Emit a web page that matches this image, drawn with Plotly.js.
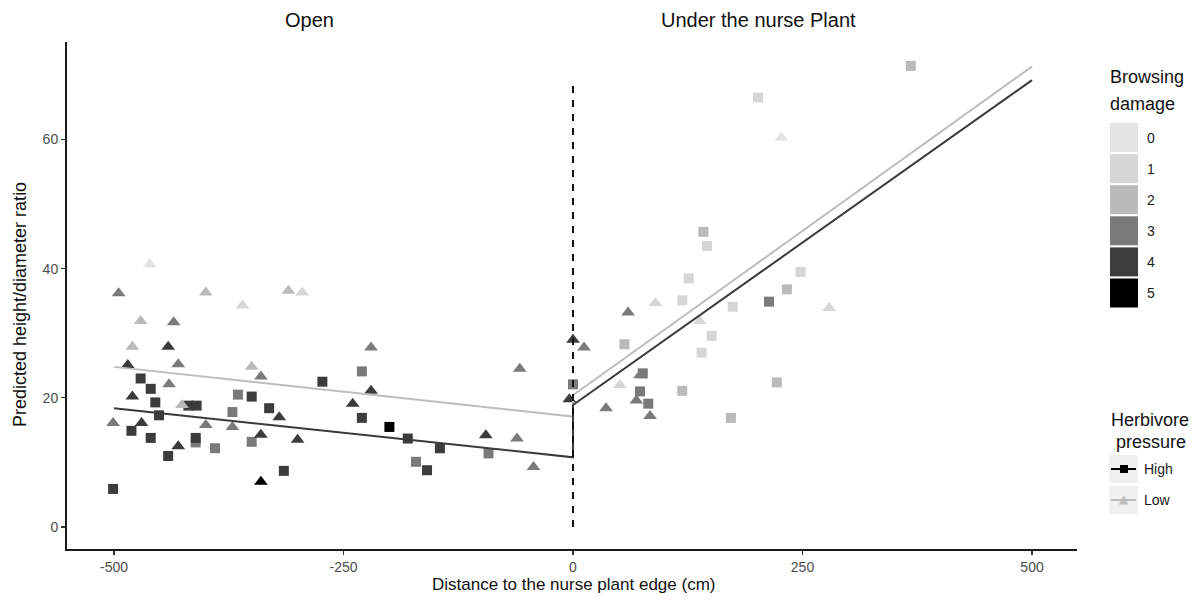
<!DOCTYPE html>
<html>
<head>
<meta charset="utf-8">
<script src="https://cdn.plot.ly/plotly-3.0.1.min.js"></script>
<style>html,body{margin:0;padding:0;background:#fff}#chart{width:1200px;height:601px}</style>
</head>
<body>
<div id="chart"></div>
<script>
// Browsing damage colour scale (0..5)
const damageLevels = [0, 1, 2, 3, 4, 5];
const damageColors = ['#e4e4e4', '#d6d6d6', '#bababa', '#7a7a7a', '#3c3c3c', '#000000'];

// High herbivore pressure (squares)
const highX = [-471, -460, -455, -419, -410, -365, -350, -331, -371, -451, -481, -411, -460, -411, -390, -350, -441, -315, -501,
  -273, -230, -230, -200, -180, -145, -171, -159, -92, 0,
  126, 119, 248, 233, 213.5, 174, 151, 140, 56, 76, 119, 73, 82, 222, 172, 201.5, 142, 146, 368];
const highY = [23.0, 21.4, 19.3, 18.8, 18.8, 20.5, 20.2, 18.4, 17.8, 17.3, 14.9, 13.1, 13.8, 13.8, 12.2, 13.2, 11.0, 8.7, 5.9,
  22.5, 24.1, 16.9, 15.5, 13.7, 12.2, 10.1, 8.8, 11.4, 22.1,
  38.5, 35.1, 39.5, 36.8, 34.9, 34.1, 29.6, 27.0, 28.3, 23.8, 21.1, 21.0, 19.1, 22.4, 16.9, 66.5, 45.7, 43.5, 71.4];
const highDamage = [4, 4, 4, 4, 4, 3, 4, 4, 3, 4, 4, 3, 4, 4, 3, 3, 4, 4, 4,
  4, 3, 4, 5, 4, 4, 3, 4, 3, 3,
  1, 1, 1, 2, 3, 1, 1, 1, 2, 3, 2, 3, 3, 2, 2, 1, 2, 1, 2];

// Low herbivore pressure (triangles)
const lowX = [-461, -495, -400, -360, -310, -295, -471, -435, -480, -441, -485, -430, -350, -340, -440, -480, -426, -320, -501,
  -470, -400, -371, -340, -300, -430, -340, -220, -220, -240, -95, -58, -61, -43, 0, 12, -4,
  60, 90, 279, 138, 51, 73, 69, 36, 84, 227];
const lowY = [40.7, 36.2, 36.3, 34.3, 36.6, 36.3, 31.9, 31.7, 27.9, 27.9, 25.1, 25.2, 24.8, 23.3, 22.1, 20.2, 18.9, 17.0, 16.1,
  16.1, 15.8, 15.5, 14.3, 13.5, 12.5, 7.0, 27.8, 21.1, 19.1, 14.2, 24.5, 13.7, 9.3, 29.0, 27.8, 19.8,
  33.2, 34.7, 33.9, 31.9, 22.0, 23.5, 19.6, 18.4, 17.2, 60.3];
const lowDamage = [0, 3, 2, 1, 2, 1, 2, 3, 2, 4, 4, 3, 2, 3, 3, 4, 2, 4, 3,
  4, 3, 3, 4, 4, 4, 5, 3, 4, 4, 4, 3, 3, 3, 4, 3, 4,
  3, 1, 1, 1, 1, 3, 3, 3, 3, 0];

// Fitted lines (Open side, then jump at edge, then Under nurse plant side)
const fitX = [-500, 0, 0, 500];
const fitHighY = [18.4, 10.8, 18.9, 69.2];
const fitLowY = [24.8, 17.1, 20.4, 71.3];

// Dashed nurse-plant edge
const edgeX = [0, 0];
const edgeY = [0, 69.2];

const xTicks = [-500, -250, 0, 250, 500];
const yTicks = [0, 20, 40, 60];

const colorOf = d => damageColors[d];

const traces = [
  {type: 'scatter', mode: 'markers', x: highX, y: highY, hoverinfo: 'skip',
   marker: {symbol: 'square', size: 10, color: highDamage.map(colorOf), line: {width: 0}}},
  {type: 'scatter', mode: 'markers', x: lowX, y: lowY, hoverinfo: 'skip',
   marker: {symbol: 'triangle-up', size: 12, color: lowDamage.map(colorOf), line: {width: 0}}},
  {type: 'scatter', mode: 'lines', x: fitX, y: fitLowY, line: {color: '#bdbdbd', width: 2}},
  {type: 'scatter', mode: 'lines', x: fitX, y: fitHighY, line: {color: '#3a3a3a', width: 2}},
  {type: 'scatter', mode: 'lines', x: edgeX, y: edgeY, line: {color: '#111', width: 2, dash: '7px,7px'}}
];

// pixel -> paper helpers (plot area: x 67..1077, y 42..549)
const L = 67, R = 1077, T = 42, B = 549;
const px = p => (p - L) / (R - L);
const py = p => (B - p) / (B - T);

const shapes = [];
const annotations = [];
const F = 'Liberation Sans, Arial, sans-serif';

// Browsing damage legend
const boxTop = 123, pitch = 31.1, boxH = 29;
damageLevels.forEach((d, i) => {
  const y0 = boxTop + i * pitch;
  shapes.push({type: 'rect', xref: 'paper', yref: 'paper', x0: px(1110), x1: px(1138), y0: py(y0 + boxH), y1: py(y0),
    fillcolor: damageColors[i], line: {width: 0}});
  annotations.push({xref: 'paper', yref: 'paper', x: px(1145), y: py(y0 + boxH / 2), xanchor: 'left', yanchor: 'middle',
    text: String(d), showarrow: false, font: {family: F, size: 14, color: '#1a1a1a'}});
});
annotations.push({xref: 'paper', yref: 'paper', x: px(1108), y: py(77), xanchor: 'left', yanchor: 'middle',
  text: 'Browsing', showarrow: false, font: {family: F, size: 18, color: '#111'}});
annotations.push({xref: 'paper', yref: 'paper', x: px(1108), y: py(104), xanchor: 'left', yanchor: 'middle',
  text: 'damage', showarrow: false, font: {family: F, size: 18, color: '#111'}});

// Herbivore pressure legend
annotations.push({xref: 'paper', yref: 'paper', x: px(1150), y: py(420), xanchor: 'center', yanchor: 'middle',
  text: 'Herbivore', showarrow: false, font: {family: F, size: 18, color: '#111'}});
annotations.push({xref: 'paper', yref: 'paper', x: px(1151), y: py(442), xanchor: 'center', yanchor: 'middle',
  text: 'pressure', showarrow: false, font: {family: F, size: 18, color: '#111'}});
const entries = [
  {label: 'High', top: 455, color: '#000000', sym: 'square'},
  {label: 'Low', top: 486, color: '#bdbdbd', sym: 'tri'}
];
entries.forEach(e => {
  const cy = e.top + 14;
  shapes.push({type: 'rect', xref: 'paper', yref: 'paper', x0: px(1109), x1: px(1138), y0: py(e.top + 28), y1: py(e.top),
    fillcolor: '#f0f0f0', line: {width: 0}});
  shapes.push({type: 'line', xref: 'paper', yref: 'paper', x0: px(1111), x1: px(1136), y0: py(cy), y1: py(cy),
    line: {color: e.color, width: 2}});
  if (e.sym === 'square') {
    shapes.push({type: 'rect', xref: 'paper', yref: 'paper', x0: px(1120), x1: px(1128), y0: py(cy + 4), y1: py(cy - 4),
      fillcolor: e.color, line: {width: 0}});
  } else {
    annotations.push({xref: 'paper', yref: 'paper', x: px(1124), y: py(cy - 1), xanchor: 'center', yanchor: 'middle',
      text: '▲', showarrow: false, font: {family: 'DejaVu Sans', size: 12, color: e.color}});
  }
  annotations.push({xref: 'paper', yref: 'paper', x: px(1142), y: py(cy), xanchor: 'left', yanchor: 'middle',
    text: e.label, showarrow: false, font: {family: F, size: 14, color: '#1a1a1a'}});
});

// Panel titles
annotations.push({xref: 'paper', yref: 'paper', x: px(309), y: py(20), xanchor: 'center', yanchor: 'middle',
  text: 'Open', showarrow: false, font: {family: F, size: 20, color: '#111'}});
annotations.push({xref: 'paper', yref: 'paper', x: px(758), y: py(20), xanchor: 'center', yanchor: 'middle',
  text: 'Under the nurse Plant', showarrow: false, font: {family: F, size: 20, color: '#111'}});

// Axis titles
annotations.push({xref: 'paper', yref: 'paper', x: px(573), y: py(584), xanchor: 'center', yanchor: 'middle',
  text: 'Distance to the nurse plant edge (cm)', showarrow: false, font: {family: F, size: 17, color: '#111'}});
annotations.push({xref: 'paper', yref: 'paper', x: px(20), y: py(305), xanchor: 'center', yanchor: 'middle', textangle: -90,
  text: 'Predicted height/diameter ratio', showarrow: false, font: {family: F, size: 18, color: '#111'}});

const layout = {
  width: 1200, height: 601,
  margin: {l: L, r: 1200 - R, t: T, b: 601 - B, pad: 0},
  paper_bgcolor: '#fff', plot_bgcolor: '#fff',
  showlegend: false,
  xaxis: {range: [-551.2, 549], tickvals: xTicks, ticktext: xTicks.map(String), showgrid: false, zeroline: false,
    showline: true, linecolor: '#1a1a1a', linewidth: 2, ticks: 'outside', ticklen: 4, tickcolor: '#333', tickwidth: 1.2,
    tickfont: {family: F, size: 14, color: '#4d4d4d'}, fixedrange: true},
  yaxis: {range: [-3.4, 75.1], tickvals: yTicks, ticktext: yTicks.map(String), showgrid: false, zeroline: false,
    showline: true, linecolor: '#1a1a1a', linewidth: 2, ticks: 'outside', ticklen: 4, tickcolor: '#333', tickwidth: 1.2,
    tickfont: {family: F, size: 14, color: '#4d4d4d'}, fixedrange: true},
  shapes: shapes,
  annotations: annotations
};

Plotly.newPlot('chart', traces, layout, {staticPlot: true, displayModeBar: false});
</script>
</body>
</html>
